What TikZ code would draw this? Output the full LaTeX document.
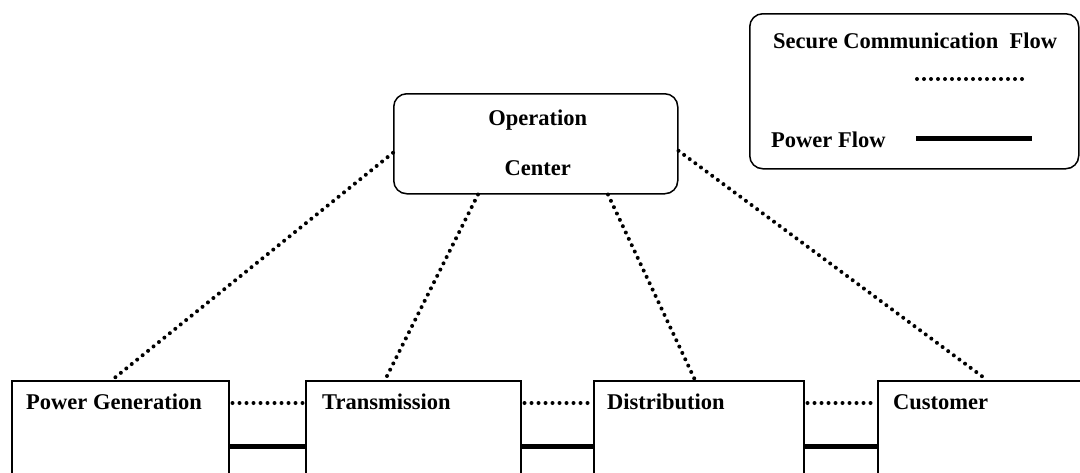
\documentclass[tikz,border=0pt]{standalone}
\usepackage{fontspec}
\setmainfont{Liberation Serif}
\usetikzlibrary{calc}
\begin{document}
\begin{tikzpicture}[x=1pt,y=-1pt,
  lbl/.style={font=\fontsize{22.5}{25}\selectfont\bfseries, inner sep=0pt},
  stagebox/.style={draw, line width=1.5pt, anchor=north west, inner sep=0pt},
  roundbox/.style={draw, line width=1.5pt, rounded corners=13pt, inner sep=0pt, anchor=north west},
  comm/.style={line width=4pt, line cap=round, dash pattern=on 0pt off 7pt},
  power/.style={line width=5pt}]
\useasboundingbox (0,0) rectangle (1080,472);
\clip (0,0) rectangle (1080,472);

% grid stages along the bottom, running past the lower edge
\node[stagebox, minimum width=217pt, minimum height=150pt] (pg) at (11,380) {};
\node[stagebox, minimum width=215pt, minimum height=150pt] (tr) at (305,380) {};
\node[stagebox, minimum width=210pt, minimum height=150pt] (di) at (593,380) {};
\node[stagebox, minimum width=240pt, minimum height=150pt] (cu) at (877,380) {};

\node[lbl, anchor=base west] (pgt) at ($(pg.north west)+(15,29)$) {Power Generation};
\node[lbl, anchor=base west] (trt) at ($(tr.north west)+(17,29)$) {Transmission};
\node[lbl, anchor=base west] (dit) at ($(di.north west)+(14,29)$) {Distribution};
\node[lbl, anchor=base west] (cut) at ($(cu.north west)+(16,29)$) {Customer};

% operation center
\node[roundbox, minimum width=284pt, minimum height=100pt] (oc) at (393,93) {};
\node[lbl, anchor=base] (oct1) at ($(oc.north)+(2,32)$) {Operation};
\node[lbl, anchor=base] (oct2) at ($(oc.north)+(2,82)$) {Center};

% legend
\node[roundbox, minimum width=329pt, minimum height=155pt] (lg) at (749,13) {};
\node[lbl, anchor=base west] (lgc) at ($(lg.north west)+(24,35)$) {Secure Communication\ \ Flow};
\node[lbl, anchor=base west] (lgp) at ($(lg.north west)+(22,134)$) {Power Flow};
\coordinate (lc1) at (917,79);
\coordinate (lc2) at (1029,79);
\coordinate (lp1) at (916,138);
\coordinate (lp2) at (1032,138);
\draw[comm] (lc1) -- (lc2);
\draw[power] (lp1) -- (lp2);

% secure communication links
\draw[comm] ($(oc.west)+(0,9)$) -- ($(pg.north west)+(101,0)$);
\draw[comm] ($(oc.south west)+(85,0)$) -- ($(tr.north west)+(80,0)$);
\draw[comm] ($(oc.south west)+(215,0)$) -- ($(di.north west)+(102,0)$);
\draw[comm] ($(oc.east)+(0,7)$) -- ($(cu.north west)+(110,0)$);

\draw[comm] ($(pg.north east)+(3,23)$) -- ($(tr.north west)+(-2,23)$);
\draw[comm] ($(tr.north east)+(3,23)$) -- ($(di.north west)+(-2,23)$);
\draw[comm] ($(di.north east)+(3,23)$) -- ($(cu.north west)+(-2,23)$);

% power flow links
\draw[power] ($(pg.north east)+(0,66)$) -- ($(tr.north west)+(0,66)$);
\draw[power] ($(tr.north east)+(0,66)$) -- ($(di.north west)+(0,66)$);
\draw[power] ($(di.north east)+(0,66)$) -- ($(cu.north west)+(0,66)$);
\end{tikzpicture}
\end{document}
